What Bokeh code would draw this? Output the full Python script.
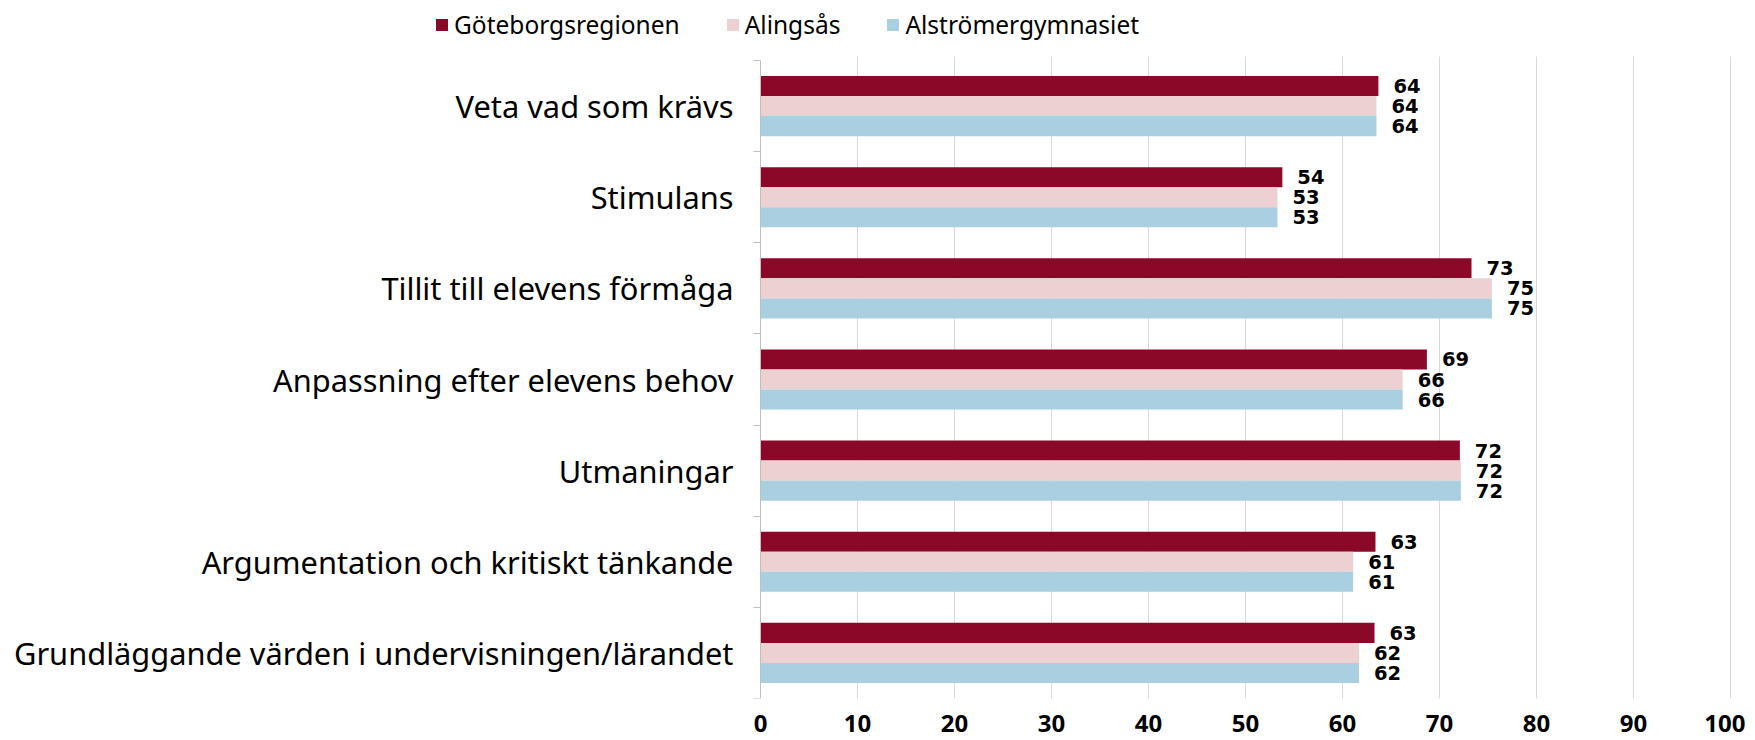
from bokeh.plotting import figure
from bokeh.models import Range1d, FixedTicker, Legend, LegendItem, ColumnDataSource, BoxAnnotation
from bokeh.core.properties import value
from bokeh.embed import file_html
from bokeh.resources import INLINE

categories = [
    "Veta vad som krävs",
    "Stimulans",
    "Tillit till elevens förmåga",
    "Anpassning efter elevens behov",
    "Utmaningar",
    "Argumentation och kritiskt tänkande",
    "Grundläggande värden i undervisningen/lärandet",
]
series_names = ["Göteborgsregionen", "Alingsås", "Alströmergymnasiet"]
goteborg = [63.7, 53.8, 73.3, 68.7, 72.1, 63.4, 63.3]
alingsas = [63.5, 53.3, 75.4, 66.2, 72.2, 61.1, 61.7]
alstromer = [63.5, 53.3, 75.4, 66.2, 72.2, 61.1, 61.7]
x_ticks = [0, 10, 20, 30, 40, 50, 60, 70, 80, 90, 100]

colors = ["#8C0828", "#EDD0D1", "#A9CFE1"]
offsets = [0.22, 0.0, -0.22]
bar_h = 0.22

n = len(categories)
centers = [n - 1 - i for i in range(n)]

# layout in pixels
FW, FH = 1745, 698          # frame (whole width, legend strip included on top)
X0_PX, X100_PX = 760, 1730  # where 0 and 100 fall
TOP_PX = 60                 # top of the first category band
GRID_TOP_PX = 56            # where the vertical grid lines begin
px_per_x = (X100_PX - X0_PX) / 100.0
band_px = (FH - TOP_PX) / n
x_start = -X0_PX / px_per_x
x_end = 100 + (FW - X100_PX) / px_per_x
y_top = n - 0.5 + TOP_PX / band_px
grid_top = n - 0.5 + (TOP_PX - GRID_TOP_PX) / band_px

p = figure(frame_width=FW, frame_height=FH, output_backend="svg", toolbar_location=None,
           x_range=Range1d(x_start, x_end), y_range=Range1d(-0.5, y_top),
           min_border_left=0, min_border_right=0, min_border_top=0, min_border_bottom=42)
p.outline_line_color = None
p.background_fill_color = "white"

renderers = []
for name, vals, col, off in zip(series_names, [goteborg, alingsas, alstromer], colors, offsets):
    src = ColumnDataSource(dict(y=[c + off for c in centers], v=vals,
                                lab=["%d" % int(v + 0.5) for v in vals]))
    r = p.hbar(y="y", right="v", left=0, height=bar_h, source=src,
               fill_color=col, line_color=None)
    renderers.append((name, r))
    p.text(x="v", y="y", text="lab", source=src, x_offset=15,
           text_align="left", text_baseline="middle",
           text_font=value("DejaVu Sans"), text_font_style="bold",
           text_font_size="19.5px", text_color="#000000")

xa = p.xaxis[0]
xa.ticker = FixedTicker(ticks=x_ticks)
xa.axis_line_color = None
xa.major_tick_line_color = None
xa.major_tick_out = 0
xa.minor_tick_line_color = None
xa.major_label_text_font = "Noto Sans"
xa.major_label_text_font_style = "bold"
xa.major_label_text_font_size = "24px"
xa.major_label_text_color = "#000000"
xa.major_label_standoff = 16

ya = p.yaxis[0]
ya.fixed_location = 0
ya.bounds = (-0.5, n - 0.5)
ya.ticker = FixedTicker(ticks=centers, minor_ticks=[k - 0.5 for k in range(n + 1)])
ya.major_label_overrides = {c: cat for c, cat in zip(centers, categories)}
ya.axis_line_color = "#BFBFBF"
ya.axis_line_width = 1
ya.major_tick_line_color = None
ya.major_tick_out = 0
ya.major_tick_in = 0
ya.minor_tick_line_color = "#BFBFBF"
ya.minor_tick_out = 7
ya.minor_tick_in = 0
ya.major_label_text_font = "Noto Sans"
ya.major_label_text_font_size = "30.8px"
ya.major_label_text_color = "#000000"
ya.major_label_standoff = 20

p.xgrid.ticker = FixedTicker(ticks=x_ticks[1:])
p.xgrid.grid_line_color = "#D9D9D9"
p.xgrid.grid_line_width = 1
p.ygrid.grid_line_color = None

# keep the legend strip free of grid lines
p.add_layout(BoxAnnotation(bottom=grid_top, fill_color="white", fill_alpha=1.0,
                           line_color=None))

legend = Legend(items=[LegendItem(label=nm, renderers=[r]) for nm, r in renderers],
                orientation="horizontal", location=(434, 657),
                glyph_width=15, glyph_height=15, label_standoff=5, spacing=45,
                padding=0, margin=0, border_line_color=None, background_fill_alpha=0,
                label_text_font="Noto Sans", label_text_font_size="24.5px",
                label_text_color="#000000", label_height=15)
p.add_layout(legend, "center")

open("out.html", "w").write(file_html(p, INLINE))
